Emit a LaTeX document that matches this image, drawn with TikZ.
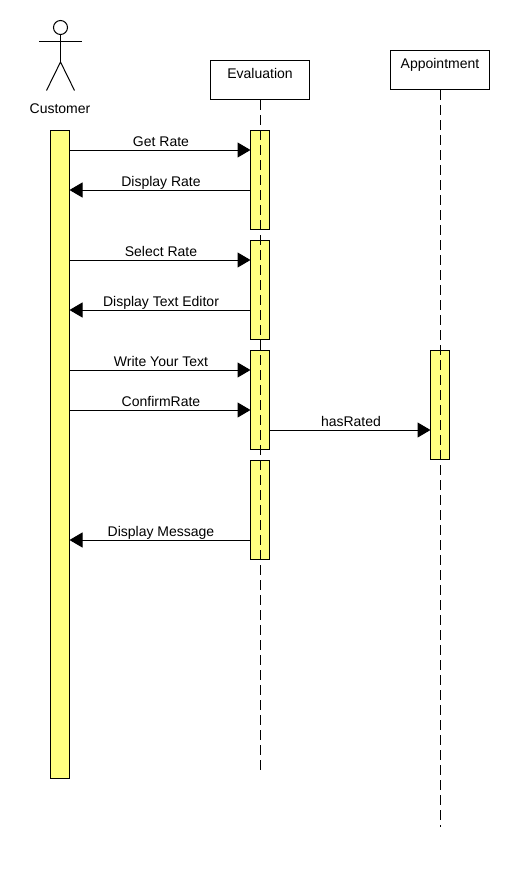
\documentclass[tikz,border=0pt]{standalone}
\usepackage{fontspec}
\setmainfont{Liberation Sans}
\usetikzlibrary{arrows.meta}

\begin{document}
\begin{tikzpicture}[x=1pt, y=-1pt, line width=1pt, font=\fontsize{14}{16}\selectfont,
    lifebox/.style = {draw, fill=white, minimum width=99pt, minimum height=39pt, inner sep=0pt, text height=10pt, text depth=14pt},
    activation/.style = {draw, fill={rgb,255:red,255;green,255;blue,128}, minimum width=19pt, inner sep=0pt},
    msg/.style = {-{Triangle[length=13pt, width=15pt]}, shorten >=-0.5pt},
    msglabel/.style = {above, inner sep=3.5pt, text depth=0pt, xshift=1pt},
    lifeline/.style = {dash pattern=on 10pt off 5pt}]
    \useasboundingbox (0,0) rectangle (510,870);

    % actor
    \node[draw, circle, minimum size=14pt, inner sep=0pt] (head) at (60.5,27.5) {};
    \coordinate (neck) at (60.5,62);
    \coordinate (armL) at (39,41);
    \coordinate (armR) at (82,41);
    \coordinate (footL) at (46.5,90.5);
    \coordinate (footR) at (74.5,90.5);
    \draw (head) -- (neck);
    \draw (armL) -- (armR);
    \draw (footL) -- (neck) -- (footR);
    \node (customer) at (60,108.5) {Customer};

    % heads of the lifelines
    \node[lifebox] (evaluation) at (260,80) {Evaluation};
    \node[lifebox] (appointment) at (440,70) {Appointment};
    \coordinate (evaluationEnd) at (260,770);
    \coordinate (appointmentEnd) at (440,827);

    % activation bars
    \node[activation, minimum height=648pt] (custBar) at (60,454.5) {};
    \node[activation, minimum height=99pt] (evalA) at (260,180) {};
    \node[activation, minimum height=99pt] (evalB) at (260,290) {};
    \node[activation, minimum height=99pt] (evalC) at (260,400) {};
    \node[activation, minimum height=99pt] (evalD) at (260,510) {};
    \node[activation, minimum height=109pt] (appBar) at (440,405) {};

    \draw[lifeline] (evaluation) -- (evaluationEnd);
    \draw[lifeline] (appointment) -- (appointmentEnd);

    % messages
    \coordinate (m1) at (0,150);
    \coordinate (m2) at (0,190);
    \coordinate (m3) at (0,260);
    \coordinate (m4) at (0,310);
    \coordinate (m5) at (0,370);
    \coordinate (m6) at (0,410);
    \coordinate (m7) at (0,430);
    \coordinate (m8) at (0,540);

    \path[msg] (custBar.east |- m1) edge node[msglabel] {Get Rate} (evalA.west |- m1);
    \path[msg] (evalA.west |- m2) edge node[msglabel] {Display Rate} (custBar.east |- m2);
    \path[msg] (custBar.east |- m3) edge node[msglabel] {Select Rate} (evalB.west |- m3);
    \path[msg] (evalB.west |- m4) edge node[msglabel] {Display Text Editor} (custBar.east |- m4);
    \path[msg] (custBar.east |- m5) edge node[msglabel] {Write Your Text} (evalC.west |- m5);
    \path[msg] (custBar.east |- m6) edge node[msglabel] {ConfirmRate} (evalC.west |- m6);
    \path[msg] (evalC.east |- m7) edge node[msglabel] {hasRated} (appBar.west |- m7);
    \path[msg] (evalD.west |- m8) edge node[msglabel] {Display Message} (custBar.east |- m8);
\end{tikzpicture}
\end{document}
